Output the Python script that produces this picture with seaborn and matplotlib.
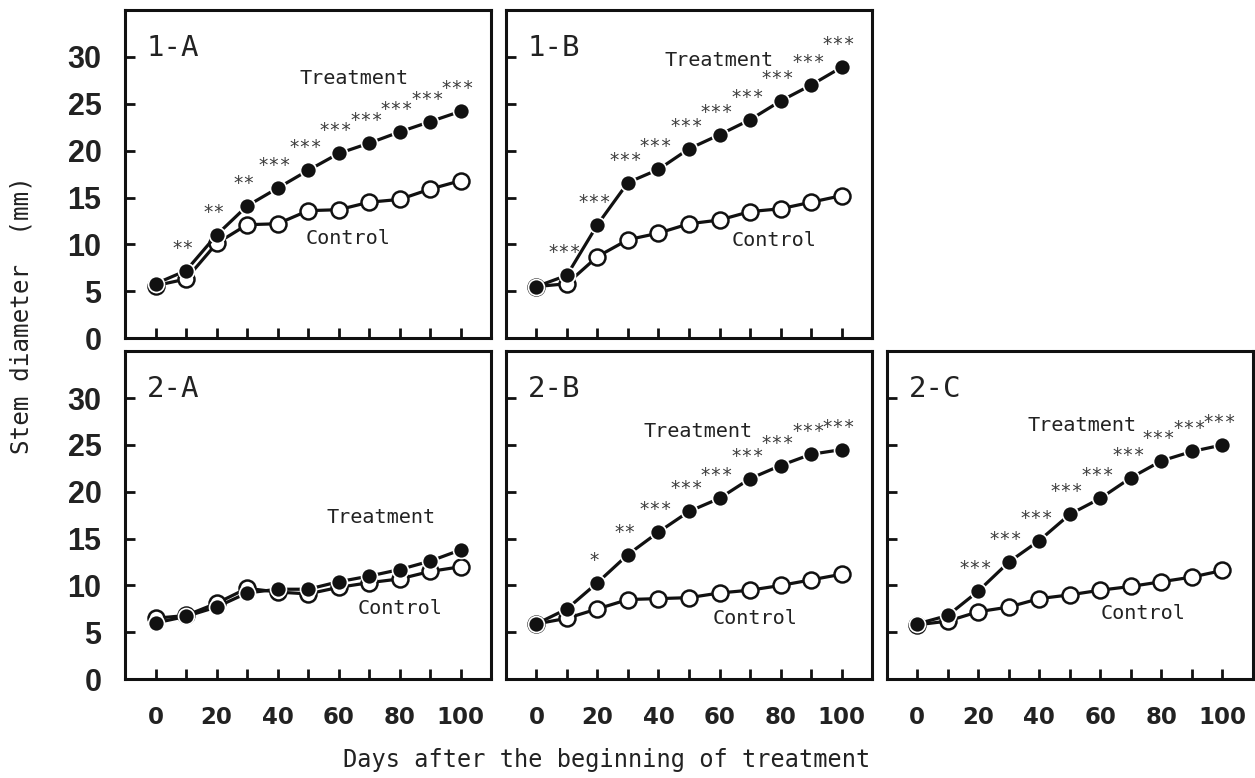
import matplotlib
matplotlib.use("Agg")
import matplotlib.pyplot as plt
import seaborn as sns

# dias de medida (cada 10 dias)
days = [0, 10, 20, 30, 40, 50, 60, 70, 80, 90, 100]

# 1-A
treat_1a = [5.8, 7.2, 11.0, 14.1, 16.0, 17.9, 19.7, 20.8, 22.0, 23.1, 24.2]
ctrl_1a = [5.6, 6.3, 10.1, 12.1, 12.2, 13.6, 13.7, 14.5, 14.8, 15.9, 16.8]
sig_1a = ["", "**", "**", "**", "***", "***", "***", "***", "***", "***", "***"]

# 1-B
treat_1b = [5.5, 6.7, 12.1, 16.6, 18.0, 20.2, 21.7, 23.3, 25.3, 27.0, 28.9]
ctrl_1b = [5.5, 5.8, 8.7, 10.5, 11.2, 12.2, 12.6, 13.5, 13.8, 14.5, 15.2]
sig_1b = ["", "***", "***", "***", "***", "***", "***", "***", "***", "***", "***"]

# 2-A
treat_2a = [6.0, 6.7, 7.7, 9.2, 9.6, 9.6, 10.4, 11.0, 11.7, 12.6, 13.8]
ctrl_2a = [6.5, 6.8, 8.1, 9.7, 9.3, 9.1, 9.8, 10.3, 10.7, 11.5, 12.0]
sig_2a = [""] * 11

# 2-B
treat_2b = [5.9, 7.5, 10.3, 13.3, 15.7, 17.9, 19.3, 21.4, 22.8, 24.0, 24.5]
ctrl_2b = [5.9, 6.5, 7.5, 8.5, 8.6, 8.7, 9.2, 9.5, 10.0, 10.6, 11.2]
sig_2b = ["", "", "*", "**", "***", "***", "***", "***", "***", "***", "***"]

# 2-C
treat_2c = [5.9, 6.8, 9.4, 12.5, 14.8, 17.6, 19.3, 21.5, 23.3, 24.3, 25.0]
ctrl_2c = [5.8, 6.2, 7.2, 7.7, 8.6, 9.0, 9.5, 9.9, 10.4, 10.9, 11.6]
sig_2c = ["", "", "***", "***", "***", "***", "***", "***", "***", "***", "***"]

y_ticks = [0, 5, 10, 15, 20, 25, 30]
x_ticks = [0, 20, 40, 60, 80, 100]

# posiciones de las etiquetas "Treatment" / "Control" (coordenadas de datos)
label_pos = {
    "1-A": ((65, 27.7), (63, 10.6)),
    "1-B": ((60, 29.6), (78, 10.4)),
    "2-A": ((74, 17.3), (80, 7.5)),
    "2-B": ((53, 26.4), (71.5, 6.5)),
    "2-C": ((54, 27.1), (74, 7.0)),
}

ink = "#111111"
txt = "#222222"

sns.set_style("white")
plt.rcParams["font.family"] = ["DejaVu Sans Mono", "DejaVu Sans"]

fig, axes = plt.subplots(2, 3, figsize=(12.55, 7.78), dpi=100,
                         sharex=True, sharey=True)
fig.subplots_adjust(left=0.0996, right=0.9984, top=0.987, bottom=0.127,
                    wspace=0.04, hspace=0.04)
axes[0, 2].remove()


def draw_panel(ax, name, treat, ctrl, sig):
    sns.lineplot(x=days, y=ctrl, ax=ax, color=ink, linewidth=2.3,
                 marker="o", markersize=11.5, markerfacecolor="white",
                 markeredgecolor=ink, markeredgewidth=1.8, zorder=3)
    sns.lineplot(x=days, y=treat, ax=ax, color=ink, linewidth=2.3,
                 marker="o", markersize=11.5, markerfacecolor=ink,
                 markeredgecolor="white", markeredgewidth=1.2, zorder=4)
    for d, t, s in zip(days, treat, sig):
        if s:
            ax.text(d - 1, t + 2.4, s, ha="center", va="center",
                    fontsize=13.5, color="#3a3a3a")
    (tx, ty), (cx, cy) = label_pos[name]
    ax.text(tx, ty, "Treatment", ha="center", va="center", fontsize=14.5, color=txt)
    ax.text(cx, cy, "Control", ha="center", va="center", fontsize=14.5, color=txt)
    ax.text(0.06, 0.885, name, transform=ax.transAxes, ha="left", va="center",
            fontsize=21, color=txt)

    ax.set_xlim(-10, 110)
    ax.set_ylim(0, 35)
    ax.set_xticks(range(0, 101, 10), minor=True)
    ax.set_xticks(x_ticks, labels=[str(v) for v in x_ticks],
                  fontfamily="DejaVu Sans", fontweight="bold", fontsize=16.5,
                  color=txt)
    ax.set_yticks(y_ticks, labels=[str(v) for v in y_ticks],
                  fontfamily=["Liberation Sans Narrow", "Liberation Sans"],
                  fontweight="bold", fontsize=22, color=txt)
    ax.tick_params(which="both", direction="in", length=7.5, width=2,
                   color=ink, bottom=True, left=True)
    ax.tick_params(axis="y", pad=17)
    ax.tick_params(axis="x", pad=19)
    ax.set_xlabel("")
    ax.set_ylabel("")
    for sp in ax.spines.values():
        sp.set_linewidth(2.2)
        sp.set_color(ink)


draw_panel(axes[0, 0], "1-A", treat_1a, ctrl_1a, sig_1a)
draw_panel(axes[0, 1], "1-B", treat_1b, ctrl_1b, sig_1b)
draw_panel(axes[1, 0], "2-A", treat_2a, ctrl_2a, sig_2a)
draw_panel(axes[1, 1], "2-B", treat_2b, ctrl_2b, sig_2b)
draw_panel(axes[1, 2], "2-C", treat_2c, ctrl_2c, sig_2c)

fig.text(0.0175, 0.595, "Stem diameter  (mm)", rotation=90, ha="center",
         va="center", fontsize=17.5, color=txt)
fig.text(0.4837, 0.023, "Days after the beginning of treatment", ha="center",
         va="center", fontsize=17, color=txt)

fig.savefig("out.png", dpi=100)
